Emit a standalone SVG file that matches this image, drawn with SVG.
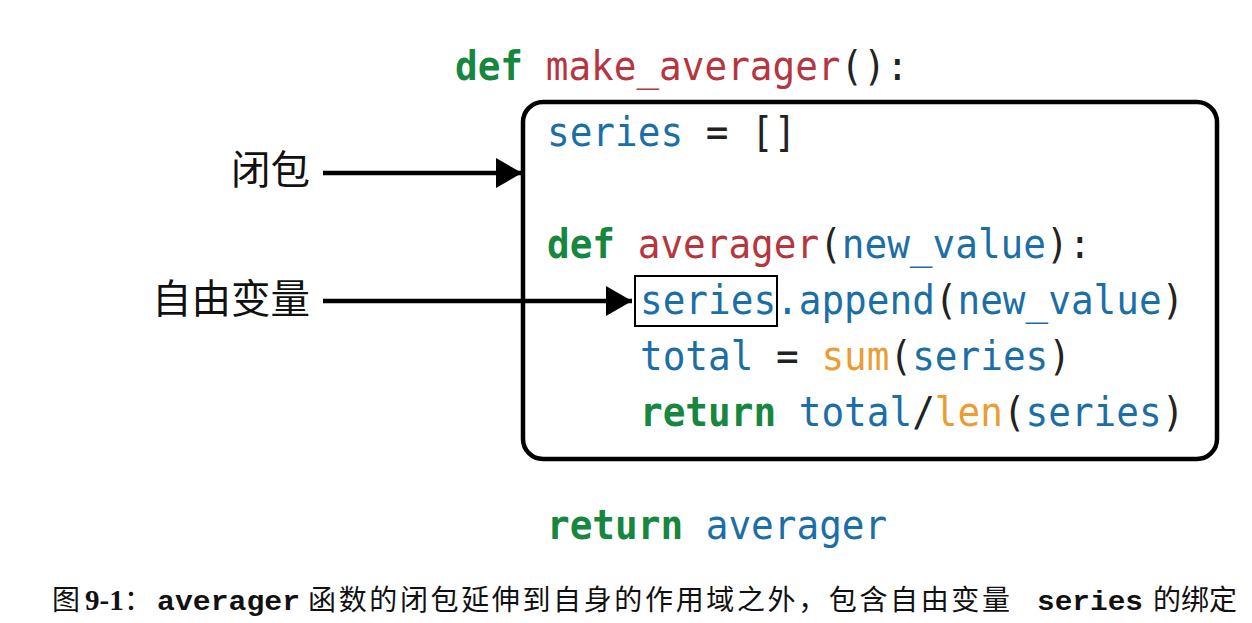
<svg xmlns="http://www.w3.org/2000/svg" width="1252" height="623" viewBox="0 0 1252 623">
<style>
.code{font-family:"DejaVu Sans Mono","Liberation Mono",monospace;font-size:40px;fill:#222}
.k{fill:#17873f;font-weight:bold}
.f{fill:#b5363f}
.v{fill:#1b6fa6}
.b{fill:#eb9d33}
.lbl{font-family:"Noto Sans CJK SC","Noto Sans",sans-serif;font-size:39.5px;fill:#111;text-anchor:end}
.cap{font-family:"Noto Sans CJK SC",sans-serif;font-size:28px;fill:#111}
.capn{font-family:"Liberation Serif",serif;font-weight:bold;font-size:29px;fill:#111}
.capc{font-family:"Liberation Mono",monospace;font-weight:bold;font-size:28px;fill:#111}
.conn{stroke:#000;stroke-width:4.5;fill:none}
</style>
<defs>
<marker id="ah" markerUnits="userSpaceOnUse" markerWidth="27" markerHeight="32" refX="26" refY="15" orient="auto">
<path d="M0,0 L26,15 L0,30 z" fill="#000"/>
</marker>
</defs>
<rect width="1252" height="623" fill="#fff"/>

<g id="closure-box">
<rect x="523" y="102" width="694" height="357" rx="20" ry="20" fill="none" stroke="#000" stroke-width="4.5"/>
</g>

<g id="code">
<text class="code" xml:space="preserve" transform="translate(455,80) scale(0.942,1)"><tspan class="k">def</tspan> <tspan class="f">make_averager</tspan>():</text>
<text class="code" xml:space="preserve" transform="translate(547,146) scale(0.942,1)"><tspan class="v">series</tspan> = []</text>
<text class="code" xml:space="preserve" transform="translate(547,258) scale(0.942,1)"><tspan class="k">def</tspan> <tspan class="f">averager</tspan>(<tspan class="v">new_value</tspan>):</text>
<text class="code" xml:space="preserve" transform="translate(640,314) scale(0.942,1)"><tspan class="v">series.append</tspan>(<tspan class="v">new_value</tspan>)</text>
<text class="code" xml:space="preserve" transform="translate(640,370) scale(0.942,1)"><tspan class="v">total</tspan> = <tspan class="b">sum</tspan>(<tspan class="v">series</tspan>)</text>
<text class="code" xml:space="preserve" transform="translate(640,426) scale(0.942,1)"><tspan class="k">return</tspan> <tspan class="v">total</tspan>/<tspan class="b">len</tspan>(<tspan class="v">series</tspan>)</text>
<text class="code" xml:space="preserve" transform="translate(547,539) scale(0.942,1)"><tspan class="k">return</tspan> <tspan class="v">averager</tspan></text>
</g>

<g id="free-var">
<rect x="635" y="276" width="142" height="50" fill="none" stroke="#000" stroke-width="2"/>
</g>

<g id="label-closure">
<text class="lbl" x="310" y="184">闭包</text>
</g>
<g id="label-freevar">
<text class="lbl" x="310" y="313">自由变量</text>
</g>

<g id="connectors">
<line class="conn" x1="323" y1="173" x2="522" y2="173" marker-end="url(#ah)"/>
<line class="conn" x1="323" y1="301" x2="632" y2="301" marker-end="url(#ah)"/>
</g>

<g id="caption">
<text class="cap" x="52" y="610">图</text>
<text class="capn" x="85" y="610">9-1</text>
<text class="cap" x="124" y="610">：</text>
<text class="capc" x="157" y="610" textLength="143" lengthAdjust="spacingAndGlyphs">averager</text>
<text class="cap" x="308" y="610" textLength="702" lengthAdjust="spacing">函数的闭包延伸到自身的作用域之外，包含自由变量</text>
<text class="capc" x="1037" y="610" textLength="106" lengthAdjust="spacingAndGlyphs">series</text>
<text class="cap" x="1153" y="610" textLength="84" lengthAdjust="spacing">的绑定</text>
</g>
</svg>
